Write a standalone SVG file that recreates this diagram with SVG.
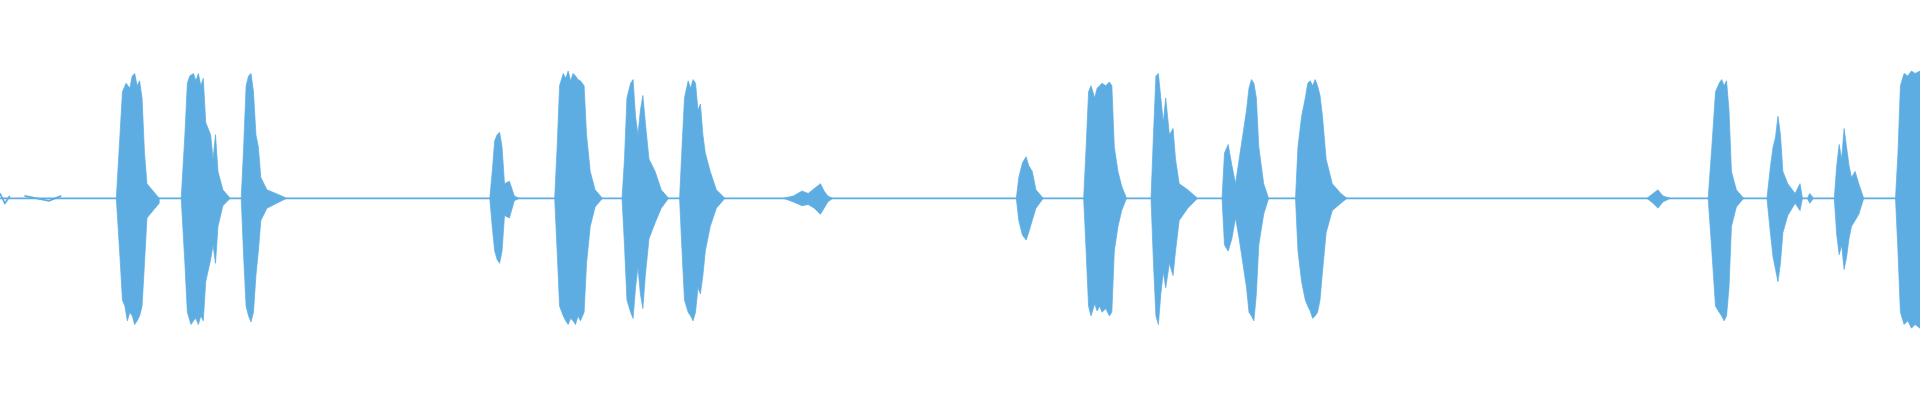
<svg xmlns="http://www.w3.org/2000/svg" width="1920" height="400" viewBox="0 0 1920 400">
<style>.w{fill:#5DADE2;stroke:#5DADE2;stroke-width:0.6;stroke-linejoin:round}.b{stroke:#5DADE2;stroke-width:1.4;fill:none}</style>
<rect width="1920" height="400" fill="#fff"/>
<g transform="scale(1.2245)">
<path class="b" d="M0,162 H1568"/>
<path class="b" d="M0,158 L4,166 L8,160 M20,160 L40,164 L50,160"/>
<path class="w" d="M95,162 L98,110 L100,75 L103,68 L106,72 L108,62 L110,60 L112,70 L114,66 L116,80 L118,125 L120,150 L125,156 L130,162 L130,166 L125,172 L120,178 L118,215 L116,250 L114,258 L112,262 L110,265 L108,258 L106,255 L104,262 L102,250 L100,245 L98,210 Z"/>
<path class="w" d="M148,162 L151,110 L153,68 L155,62 L158,60 L160,66 L162,60 L164,70 L166,64 L168,100 L172,110 L174,130 L176,110 L178,140 L182,155 L188,162 L182,168 L178,185 L176,215 L174,200 L172,212 L168,230 L166,262 L164,258 L162,265 L160,260 L158,262 L156,265 L153,255 L151,215 Z"/>
<path class="w" d="M197,162 L199,120 L201,70 L203,62 L205,60 L207,75 L209,110 L211,120 L213,145 L218,155 L230,160 L234,162 L230,164 L218,170 L213,180 L211,205 L209,225 L207,255 L205,263 L203,258 L201,250 L199,210 Z"/>
<path class="w" d="M400,162 L402,140 L404,115 L406,110 L408,108 L410,120 L412,150 L416,148 L420,160 L424,162 L420,164 L416,178 L412,176 L410,205 L408,215 L406,212 L404,205 L402,185 Z"/>
<path class="w" d="M453,162 L455,120 L457,70 L460,60 L462,64 L464,58 L466,66 L468,60 L470,62 L472,65 L474,66 L477,70 L479,110 L482,140 L486,155 L492,162 L486,169 L482,185 L479,215 L477,255 L474,262 L472,258 L470,265 L468,262 L466,260 L464,265 L462,262 L460,258 L457,250 L455,205 Z"/>
<path class="w" d="M508,162 L510,130 L512,80 L515,68 L517,65 L519,95 L521,110 L523,90 L525,78 L527,100 L530,130 L535,140 L540,155 L546,162 L540,170 L535,182 L530,195 L527,225 L525,252 L523,240 L521,218 L519,235 L517,260 L515,255 L512,245 L510,200 Z"/>
<path class="w" d="M555,162 L557,120 L559,80 L562,66 L564,72 L566,65 L568,68 L570,90 L572,85 L574,110 L576,125 L580,140 L585,155 L592,162 L585,170 L580,185 L576,205 L574,225 L572,240 L570,235 L568,255 L566,262 L564,258 L562,255 L559,245 L557,205 Z"/>
<path class="w" d="M640,162 L648,160 L655,156 L660,158 L665,154 L670,150 L673,156 L676,160 L680,162 L676,165 L673,170 L670,175 L665,170 L660,167 L655,168 L648,165 Z"/>
<path class="w" d="M830,162 L832,145 L835,133 L838,128 L840,135 L843,140 L846,155 L852,162 L846,170 L843,180 L840,190 L838,196 L835,192 L832,180 Z"/>
<path class="w" d="M885,162 L887,120 L889,75 L891,70 L894,80 L896,72 L898,70 L900,68 L903,70 L906,67 L908,70 L910,120 L913,140 L916,152 L920,162 L916,172 L913,185 L910,205 L908,255 L906,258 L903,252 L900,255 L898,250 L896,254 L894,248 L891,258 L889,250 L887,205 Z"/>
<path class="w" d="M940,162 L942,110 L944,62 L946,60 L948,80 L950,100 L952,80 L955,110 L958,105 L960,130 L963,150 L970,155 L978,162 L970,170 L963,180 L960,205 L958,225 L955,215 L952,235 L950,222 L948,240 L946,265 L944,258 L942,215 Z"/>
<path class="w" d="M998,162 L1000,125 L1003,118 L1006,135 L1009,150 L1012,130 L1015,110 L1018,90 L1020,72 L1022,65 L1024,68 L1026,80 L1028,120 L1032,150 L1036,162 L1032,175 L1028,200 L1026,240 L1024,262 L1022,258 L1020,255 L1018,235 L1015,215 L1012,195 L1009,178 L1006,195 L1003,205 L1000,200 Z"/>
<path class="w" d="M1058,162 L1060,120 L1063,95 L1066,80 L1068,68 L1070,66 L1072,70 L1074,65 L1076,70 L1078,78 L1080,95 L1083,130 L1088,150 L1095,158 L1100,162 L1095,166 L1088,172 L1083,190 L1080,222 L1078,245 L1076,255 L1074,258 L1072,260 L1070,254 L1068,250 L1066,245 L1063,230 L1060,205 Z"/>
<path class="w" d="M1345,162 L1350,158 L1354,155 L1358,160 L1364,162 L1358,165 L1354,170 L1350,166 Z"/>
<path class="w" d="M1395,162 L1398,120 L1401,75 L1404,68 L1406,65 L1408,70 L1410,66 L1412,90 L1414,140 L1418,155 L1424,162 L1418,169 L1414,185 L1412,235 L1410,258 L1408,262 L1406,258 L1404,255 L1401,250 L1398,205 Z"/>
<path class="w" d="M1443,162 L1446,135 L1448,120 L1450,112 L1452,95 L1454,110 L1456,140 L1460,150 L1466,158 L1470,150 L1472,162 L1470,172 L1466,166 L1460,176 L1456,190 L1454,215 L1452,230 L1450,220 L1448,210 L1446,192 Z"/>
<path class="w" d="M1476,162 L1478,158 L1481,162 L1478,166 Z"/>
<path class="w" d="M1498,162 L1500,135 L1502,118 L1504,130 L1506,105 L1508,120 L1510,135 L1512,145 L1515,140 L1518,150 L1522,162 L1518,175 L1515,180 L1512,185 L1510,195 L1508,210 L1506,220 L1504,200 L1502,208 L1500,192 Z"/>
<path class="w" d="M1548,162 L1550,125 L1552,70 L1555,60 L1558,62 L1561,58 L1564,60 L1568,58 L1568,268 L1564,265 L1561,268 L1558,262 L1555,265 L1552,255 L1550,205 Z"/>
</g>
</svg>
